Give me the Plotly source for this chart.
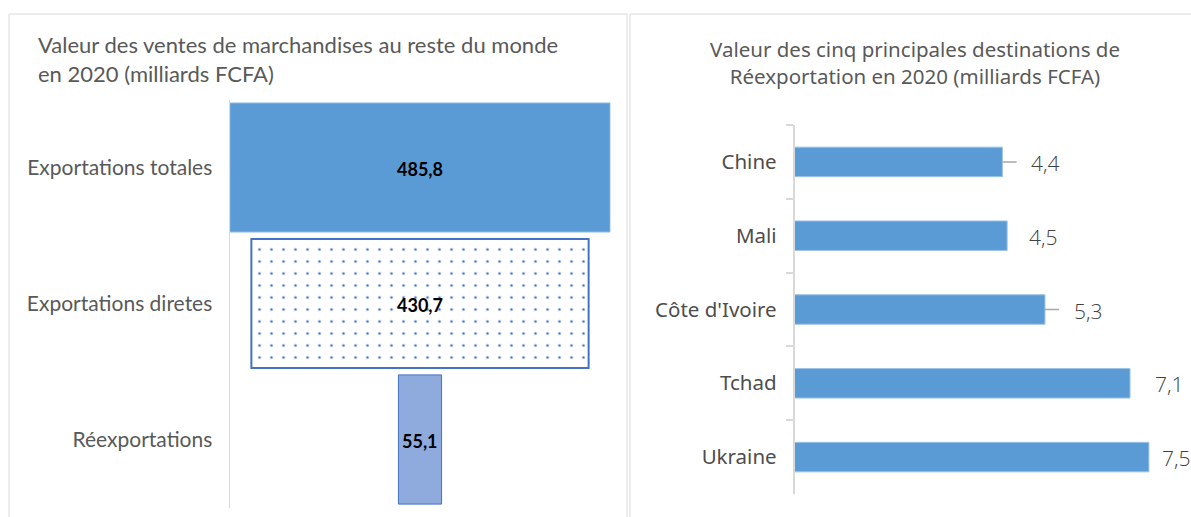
import plotly.graph_objects as go

# ---- data ----
left_title = "Valeur des ventes de marchandises au reste du monde<br>en 2020 (milliards FCFA)"
funnel_categories = ["Exportations totales", "Exportations diretes", "Réexportations"]
funnel_values = [485.8, 430.7, 55.1]
funnel_labels = ["485,8", "430,7", "55,1"]

right_title = "Valeur des cinq principales destinations de<br>Réexportation en 2020 (milliards FCFA)"
dest_categories = ["Chine", "Mali", "Côte d'Ivoire", "Tchad", "Ukraine"]
dest_values = [4.4, 4.5, 5.3, 7.1, 7.5]
dest_labels = ["4,4", "4,5", "5,3", "7,1", "7,5"]

# ---- styles ----
W, H = 1191, 517
funnel_styles = [
    dict(color="#5B9BD5", line=dict(color="#9DC3E6", width=1)),
    dict(color="#4472C4", line=dict(color="#4472C4", width=2),
         pattern=dict(shape=".", bgcolor="#FFFFFF", fgcolor="#4472C4",
                      fgopacity=1, size=12, solidity=0.04, fillmode="replace")),
    dict(color="#8FAADC", line=dict(color="#4472C4", width=1)),
]
dest_label_shift = [29, 22, 29, 25, 13]
dest_leader = [True, False, True, False, False]

fig = go.Figure()

for cat, val, style in zip(funnel_categories, funnel_values, funnel_styles):
    fig.add_trace(go.Bar(
        orientation="h",
        y=[cat],
        x=[val],
        base=[-val / 2],
        width=0.95,
        marker=style,
        hoverinfo="skip",
        xaxis="x", yaxis="y",
    ))

fig.add_trace(go.Bar(
    orientation="h",
    y=dest_categories,
    x=dest_values,
    width=0.4,
    marker=dict(color="#5B9BD5", line=dict(color="#9DC3E6", width=1)),
    hoverinfo="skip",
    xaxis="x2", yaxis="y2",
))

annotations = []
for cat, lab in zip(funnel_categories, funnel_labels):
    annotations.append(dict(
        x=0, y=cat, xref="x", yref="y", text=lab, showarrow=False,
        font=dict(family="Lato", size=18, color="#000000", weight="bold"),
        xanchor="center", yanchor="middle", yshift=-1,
    ))

shapes = []
for cat, val, lab, sh, lead in zip(dest_categories, dest_values, dest_labels,
                                   dest_label_shift, dest_leader):
    annotations.append(dict(
        x=val, y=cat, xref="x2", yref="y2", text=lab, showarrow=False,
        font=dict(family="Open Sans", size=21, color="#404040", weight=300),
        xanchor="left", yanchor="middle", xshift=sh - 2, yshift=-1,
    ))
    if lead:
        shapes.append(dict(type="line", xref="x2", yref="y2",
                           x0=val, x1=val + 0.3, y0=cat, y1=cat,
                           line=dict(color="#A6A6A6", width=1.5)))

# titles
annotations.append(dict(
    x=36 / W, y=1 - 29 / H, xref="paper", yref="paper", text=left_title,
    showarrow=False, xanchor="left", yanchor="top", align="left",
    font=dict(family="Lato", size=22, color="#595959"),
))
annotations.append(dict(
    x=915 / W, y=1 - 33 / H, xref="paper", yref="paper", text=right_title,
    showarrow=False, xanchor="center", yanchor="top", align="center",
    font=dict(family="Noto Sans", size=20.5, color="#595959"),
))

# panel frames
shapes.append(dict(type="rect", xref="paper", yref="paper",
                   x0=9 / W, x1=627 / W, y0=-0.05, y1=1 - 14 / H,
                   line=dict(color="#D9D9D9", width=1), layer="below"))
shapes.append(dict(type="rect", xref="paper", yref="paper",
                   x0=630 / W, x1=1.05, y0=-0.05, y1=1 - 14 / H,
                   line=dict(color="#D9D9D9", width=1), layer="below"))

fig.update_layout(
    width=W, height=H,
    margin=dict(l=0, r=0, t=0, b=0),
    paper_bgcolor="white", plot_bgcolor="rgba(0,0,0,0)",
    showlegend=False,
    barmode="overlay",
    xaxis=dict(domain=[229.5 / W, 610.5 / W], range=[-243.3, 243.3],
               visible=False, fixedrange=True),
    yaxis=dict(domain=[(H - 507.5) / H, (H - 99.5) / H], type="category",
               categoryorder="array", categoryarray=funnel_categories,
               autorange="reversed", showline=True, linecolor="#D9D9D9",
               linewidth=1, showgrid=False, ticks="", ticklabelstandoff=12,
               tickfont=dict(family="Lato", size=21, color="#595959")),
    xaxis2=dict(domain=[794.5 / W, 1182 / W], range=[0, 8.2],
                visible=False, fixedrange=True, anchor="y2"),
    yaxis2=dict(domain=[(H - 494) / H, (H - 125) / H], type="category",
                autorange="reversed", showline=True, linecolor="#D9D9D9",
                linewidth=1.5, showgrid=False, ticks="outside", ticklen=7,
                tickcolor="#D9D9D9", tickwidth=1.5, tickson="boundaries",
                ticklabelstandoff=12, anchor="x2",
                tickfont=dict(family="Noto Sans", size=20.5, color="#4D4D4D")),
    annotations=annotations,
    shapes=shapes,
)

fig.write_html(
    "out.html",
    config={"displayModeBar": False},
    post_script="document.body.style.margin='0px';document.body.style.overflow='hidden';",
)
